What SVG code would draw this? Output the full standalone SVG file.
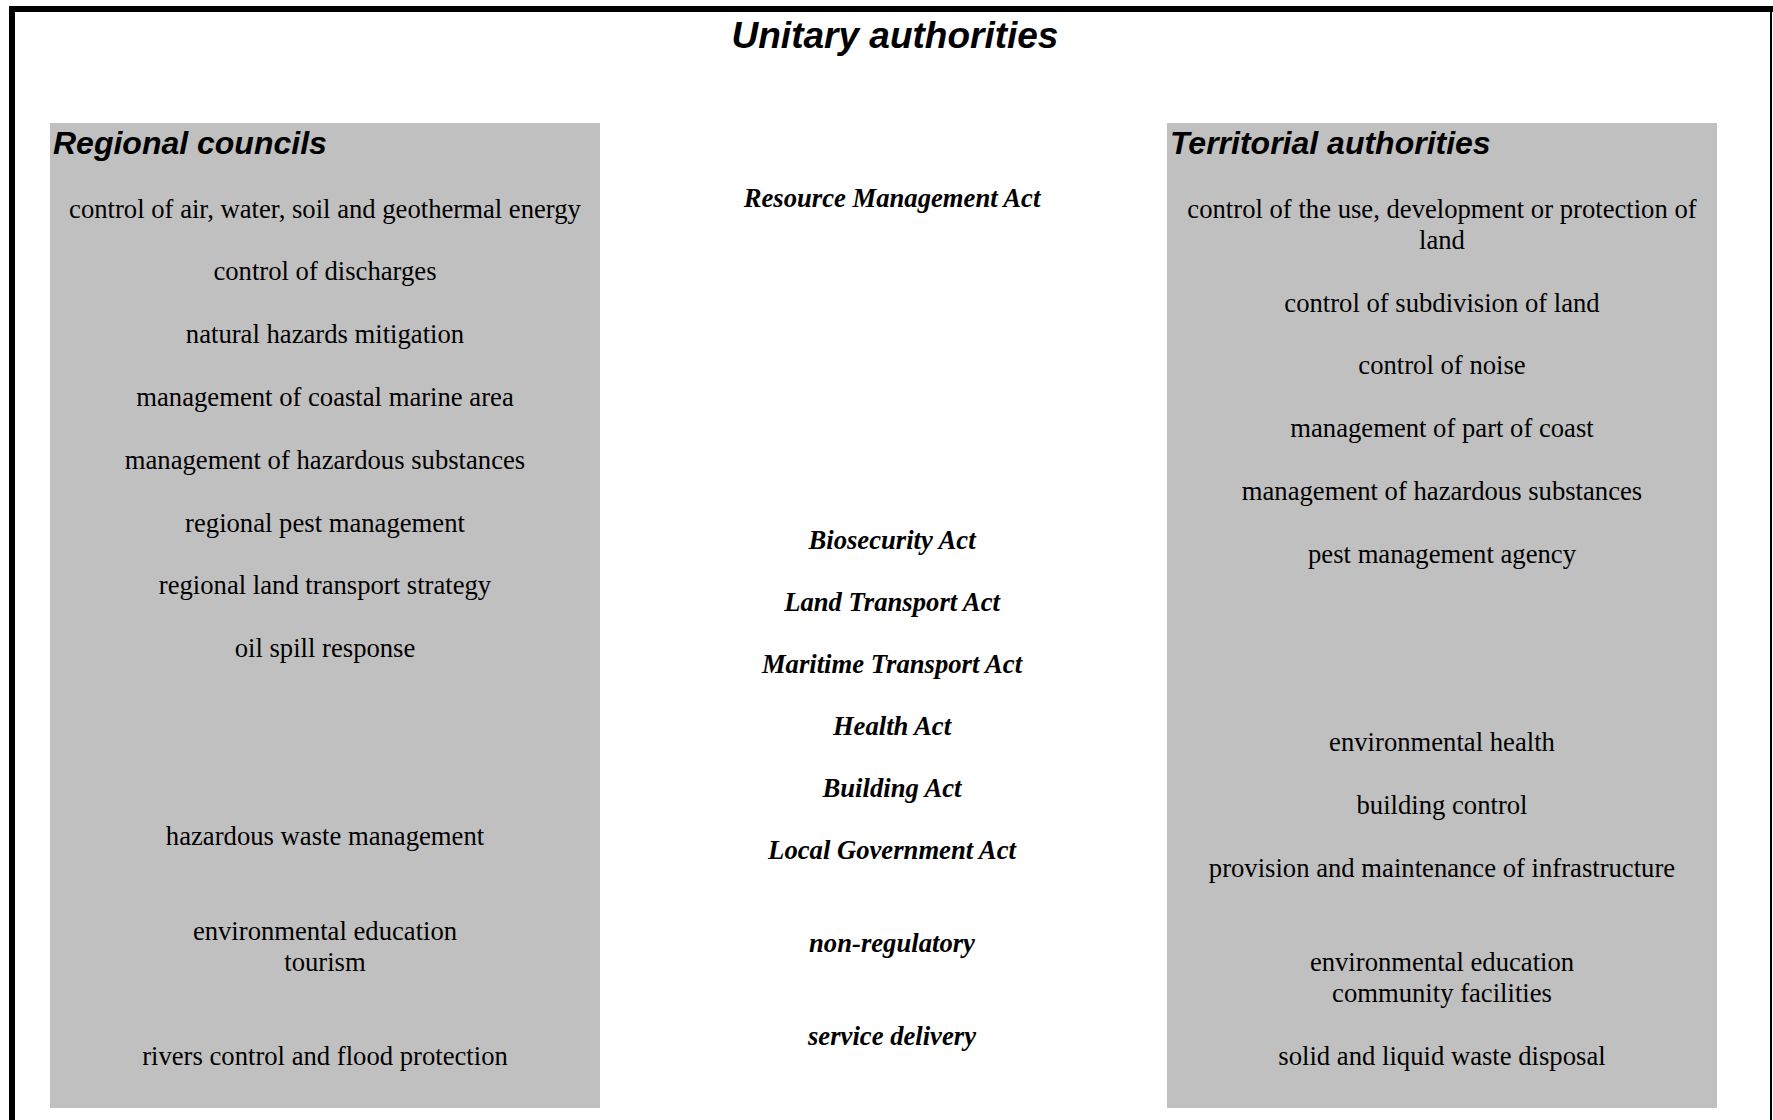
<svg xmlns="http://www.w3.org/2000/svg" width="1773" height="1120" viewBox="0 0 1773 1120">
  <style>
    .panel { fill: #c0c0c0; }
    .frame { fill: #000000; }
    .title { font-family: "Liberation Sans", Arial, sans-serif; font-weight: bold; font-style: italic; font-size: 37px; fill: #000; }
    .head { font-family: "Liberation Sans", Arial, sans-serif; font-weight: bold; font-style: italic; font-size: 32px; fill: #000; }
    .item { font-family: "Liberation Serif", "Times New Roman", serif; font-size: 26.67px; fill: #000; text-anchor: middle; }
    .act { font-family: "Liberation Serif", "Times New Roman", serif; font-weight: bold; font-style: italic; font-size: 26.67px; fill: #000; text-anchor: middle; }
  </style>

  <rect width="1773" height="1120" fill="#ffffff"/>

  <!-- outer frame: Unitary authorities -->
  <g id="unitary">
    <rect class="frame" x="9" y="6" width="1764" height="6"/>
    <rect class="frame" x="9" y="6" width="6" height="1114"/>
    <rect class="frame" x="1770" y="6" width="2" height="1114"/>
    <text class="title" x="895" y="48" text-anchor="middle">Unitary authorities</text>
  </g>

  <!-- left panel -->
  <g id="regional-councils">
    <rect class="panel" x="50" y="123" width="550" height="985"/>
    <text class="head" x="53" y="154">Regional councils</text>
    <text class="item" x="325" y="218">control of air, water, soil and geothermal energy</text>
    <text class="item" x="325" y="280">control of discharges</text>
    <text class="item" x="325" y="343">natural hazards mitigation</text>
    <text class="item" x="325" y="406">management of coastal marine area</text>
    <text class="item" x="325" y="469">management of hazardous substances</text>
    <text class="item" x="325" y="532">regional pest management</text>
    <text class="item" x="325" y="594">regional land transport strategy</text>
    <text class="item" x="325" y="657">oil spill response</text>
    <text class="item" x="325" y="845">hazardous waste management</text>
    <text class="item" x="325" y="940">environmental education</text>
    <text class="item" x="325" y="971">tourism</text>
    <text class="item" x="325" y="1065">rivers control and flood protection</text>
  </g>

  <!-- right panel -->
  <g id="territorial-authorities">
    <rect class="panel" x="1167" y="123" width="550" height="985"/>
    <text class="head" x="1170" y="154">Territorial authorities</text>
    <text class="item" x="1442" y="218">control of the use, development or protection of</text>
    <text class="item" x="1442" y="249">land</text>
    <text class="item" x="1442" y="312">control of subdivision of land</text>
    <text class="item" x="1442" y="374">control of noise</text>
    <text class="item" x="1442" y="437">management of part of coast</text>
    <text class="item" x="1442" y="500">management of hazardous substances</text>
    <text class="item" x="1442" y="563">pest management agency</text>
    <text class="item" x="1442" y="751">environmental health</text>
    <text class="item" x="1442" y="814">building control</text>
    <text class="item" x="1442" y="877">provision and maintenance of infrastructure</text>
    <text class="item" x="1442" y="971">environmental education</text>
    <text class="item" x="1442" y="1002">community facilities</text>
    <text class="item" x="1442" y="1065">solid and liquid waste disposal</text>
  </g>

  <!-- legislation column -->
  <g id="legislation">
    <text class="act" x="892" y="207">Resource Management Act</text>
    <text class="act" x="892" y="549">Biosecurity Act</text>
    <text class="act" x="892" y="611">Land Transport Act</text>
    <text class="act" x="892" y="673">Maritime Transport Act</text>
    <text class="act" x="892" y="735">Health Act</text>
    <text class="act" x="892" y="797">Building Act</text>
    <text class="act" x="892" y="859">Local Government Act</text>
    <text class="act" x="892" y="952">non-regulatory</text>
    <text class="act" x="892" y="1045">service delivery</text>
  </g>

  <g id="connectors"/>
</svg>
